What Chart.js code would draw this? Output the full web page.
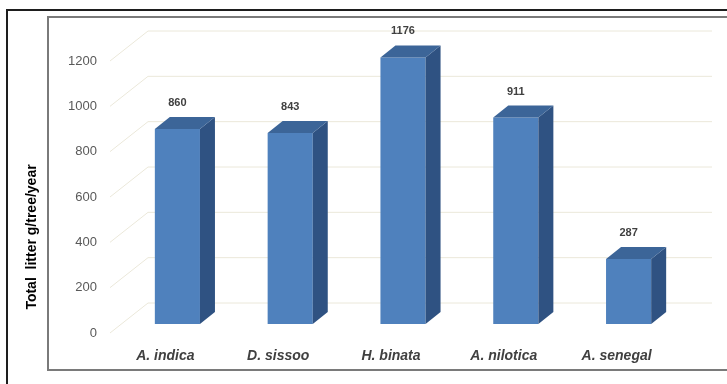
<!DOCTYPE html>
<html>
<head>
<meta charset="utf-8">
<script src="https://cdn.jsdelivr.net/npm/chart.js@4.4.1/dist/chart.umd.min.js"></script>
<style>
    html, body { margin: 0; padding: 0; background: #ffffff; }
    #wrap { position: relative; width: 727px; height: 384px; }
</style>
</head>
<body>
<div id="wrap"><canvas id="litterChart" width="727" height="384"></canvas></div>
<script>
// Chart data
const categories = ['A. indica', 'D. sissoo', 'H. binata', 'A. nilotica', 'A. senegal'];
const litterValues = [860, 843, 1176, 911, 287];
const yAxisTitle = 'Total  litter g/tree/year';

// 3D look
const depthX = 15;
const depthY = -12;
const colorFront = '#4f81bd';
const colorTop = '#3c6598';
const colorSide = '#2f5282';
const gridColor = '#ebe8da';

// Frames and gridlines drawn before the bars
const fondo3D = {
    id: 'fondo3D',
    beforeDatasetsDraw(chart) {
        const ctx = chart.ctx;
        const area = chart.chartArea;
        const yScale = chart.scales.y;
        ctx.save();

        // outer frame
        ctx.strokeStyle = '#1e1e1e';
        ctx.lineWidth = 2;
        ctx.beginPath();
        ctx.moveTo(7, 384);
        ctx.lineTo(7, 10);
        ctx.lineTo(727, 10);
        ctx.stroke();

        // inner frame
        ctx.strokeStyle = '#7a7a7a';
        ctx.lineWidth = 2;
        ctx.beginPath();
        ctx.moveTo(727, 17);
        ctx.lineTo(48, 17);
        ctx.lineTo(48, 370);
        ctx.lineTo(727, 370);
        ctx.stroke();

        // floor + wall gridlines
        ctx.strokeStyle = gridColor;
        ctx.lineWidth = 1;
        yScale.ticks.forEach(t => {
            const py = yScale.getPixelForValue(t.value);
            ctx.beginPath();
            ctx.moveTo(area.left - 11, py + 9);
            ctx.lineTo(area.left + 27, py - 21);
            ctx.lineTo(area.right + 27, py - 21);
            ctx.stroke();
        });

        // y axis title
        ctx.fillStyle = '#000000';
        ctx.font = 'bold 14px "Liberation Sans", Arial, sans-serif';
        ctx.textAlign = 'center';
        ctx.textBaseline = 'middle';
        ctx.translate(32, 237);
        ctx.rotate(-Math.PI / 2);
        ctx.fillText(yAxisTitle, 0, 0);
        ctx.restore();
    }
};

// Top and side faces plus value labels
const caras3D = {
    id: 'caras3D',
    afterDatasetsDraw(chart) {
        const ctx = chart.ctx;
        const meta = chart.getDatasetMeta(0);
        ctx.save();
        meta.data.forEach((bar, i) => {
            const half = bar.width / 2;
            const left = bar.x - half;
            const right = bar.x + half;
            const top = bar.y;
            const base = bar.base;

            // side face
            ctx.fillStyle = colorSide;
            ctx.beginPath();
            ctx.moveTo(right, top);
            ctx.lineTo(right + depthX, top + depthY);
            ctx.lineTo(right + depthX, base + depthY);
            ctx.lineTo(right, base);
            ctx.closePath();
            ctx.fill();

            // top face
            ctx.fillStyle = colorTop;
            ctx.beginPath();
            ctx.moveTo(left, top);
            ctx.lineTo(left + depthX, top + depthY);
            ctx.lineTo(right + depthX, top + depthY);
            ctx.lineTo(right, top);
            ctx.closePath();
            ctx.fill();

            // value label
            ctx.fillStyle = '#404040';
            ctx.font = 'bold 11px "Liberation Sans", Arial, sans-serif';
            ctx.textAlign = 'center';
            ctx.textBaseline = 'middle';
            ctx.fillText(String(litterValues[i]), bar.x, top - 26);
        });
        ctx.restore();
    }
};

const ctx = document.getElementById('litterChart').getContext('2d');
const litterChart = new Chart(ctx, {
    type: 'bar',
    data: {
        labels: categories,
        datasets: [{
            label: 'Total litter',
            data: litterValues,
            backgroundColor: colorFront,
            borderWidth: 0,
            barPercentage: 0.4,
            categoryPercentage: 1.0
        }]
    },
    options: {
        responsive: false,
        maintainAspectRatio: false,
        animation: false,
        devicePixelRatio: 1,
        layout: {
            padding: { left: 0, right: 42, top: 52, bottom: 0 }
        },
        plugins: {
            legend: { display: false },
            tooltip: { enabled: false }
        },
        scales: {
            x: {
                grid: { display: false, drawTicks: false },
                border: { display: false },
                ticks: {
                    color: '#404040',
                    font: { family: '"Liberation Sans", Arial, sans-serif', size: 14, style: 'italic', weight: 'bold' },
                    padding: 24,
                    labelOffset: -12,
                    maxRotation: 0
                },
                afterFit(scale) { scale.height = 60; }
            },
            y: {
                min: 0,
                max: 1200,
                grid: { display: false, drawTicks: false },
                border: { display: false },
                ticks: {
                    stepSize: 200,
                    color: '#595959',
                    font: { family: '"Liberation Sans", Arial, sans-serif', size: 13 },
                    padding: 24,
                    labelOffset: 9,
                    callback: value => String(value)
                },
                afterFit(scale) { scale.width = 121; }
            }
        }
    },
    plugins: [fondo3D, caras3D]
});
</script>
</body>
</html>
